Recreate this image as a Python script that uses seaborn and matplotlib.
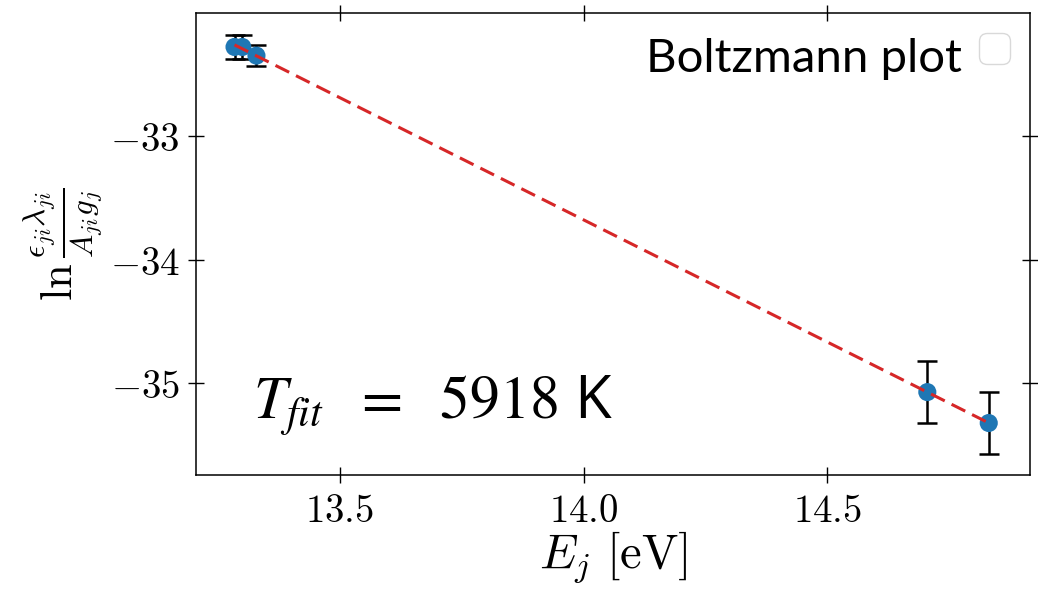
import numpy as np
import pandas as pd
import matplotlib
matplotlib.use("Agg")
import matplotlib.pyplot as plt
from matplotlib.ticker import FuncFormatter, FixedLocator
import seaborn as sns

# values
E_j = [13.284, 13.300, 13.329, 14.705, 14.831]        # upper level energy [eV]
ln_y = [-32.28, -32.28, -32.35, -35.07, -35.32]       # ln(eps*lambda/(A*g))
y_err = [0.10, 0.10, 0.085, 0.25, 0.25]
T_fit = 5918                                          # K

x_ticks = [13.5, 14.0, 14.5]
y_ticks = [-33, -34, -35]

df = pd.DataFrame({"E": E_j, "lny": ln_y, "err": y_err})

# linear fit -> straight line through the points
slope, intercept = np.polyfit(df["E"], df["lny"], 1)
fit = pd.DataFrame({"E": [df["E"].min(), df["E"].max()]})
fit["lny"] = slope * fit["E"] + intercept

sns.set_style("ticks")
plt.rcParams.update({
    "font.size": 28,
    "mathtext.fontset": "cm",
    "axes.linewidth": 1.1,
    "text.color": "black",
    "axes.labelcolor": "black",
    "axes.edgecolor": "black",
    "xtick.color": "black",
    "ytick.color": "black",
})

fig = plt.figure(figsize=(10.38, 5.89), dpi=100)
ax = fig.add_axes([0.1893, 0.1936, 0.8027, 0.7838])

ax.errorbar(df["E"], df["lny"], yerr=df["err"], fmt="none", ecolor="black",
            elinewidth=1.8, capsize=7.5, capthick=1.8, zorder=2)
sns.scatterplot(data=df, x="E", y="lny", ax=ax, color="tab:blue", s=170,
                edgecolor="none", zorder=3)
sns.lineplot(data=fit, x="E", y="lny", ax=ax, color="tab:red", lw=2.2,
             dashes=False, zorder=4)
ax.lines[-1].set_dashes([5, 2.5])

ax.set_xlim(13.206, 14.915)
ax.set_ylim(-35.74, -32.008)
ax.xaxis.set_major_locator(FixedLocator(x_ticks))
ax.yaxis.set_major_locator(FixedLocator(y_ticks))
ax.xaxis.set_major_formatter(FuncFormatter(lambda v, p: f"${v:.1f}$"))
ax.yaxis.set_major_formatter(FuncFormatter(lambda v, p: f"${v:.0f}$"))
ax.tick_params(direction="inout", length=12, width=1.0, top=True, right=True,
               labelsize=28, pad=6)

ax.set_xlabel(r"$E_j\ \mathrm{[eV]}$", fontsize=35, labelpad=0)
ax.set_ylabel(r"$\ln\frac{\epsilon_{ji}\lambda_{ji}}{A_{ji}g_j}$", fontsize=32, labelpad=4)

# empty legend box as in the original
leg = ax.legend(handles=[], loc="upper right", fontsize=28)
leg.get_frame().set_edgecolor("#d0d0d0")

ax.text(0.9188, 0.873, "Boltzmann plot", transform=ax.transAxes, ha="right",
        va="baseline", fontsize=34, family="Lato")
ax.text(0.0678, 0.1235, r"$T_{fit}\ \ =\ \ %d$" % T_fit + " K", transform=ax.transAxes,
        ha="left", va="baseline", fontsize=43, family="Open Sans",
        math_fontfamily="stix")

fig.savefig("out.png", dpi=100)
